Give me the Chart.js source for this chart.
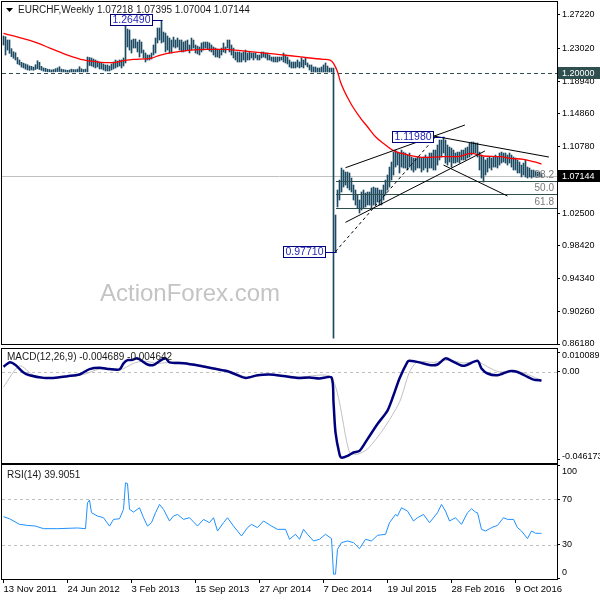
<!DOCTYPE html>
<html>
<head>
<meta charset="utf-8">
<script src="https://cdn.jsdelivr.net/npm/chart.js@4.4.1/dist/chart.umd.min.js"></script>
<style>
  html, body { margin: 0; padding: 0; background: #fff; }
  #wrap { position: relative; width: 600px; height: 600px; overflow: hidden; background: #fff; }
  canvas { position: absolute; left: 0; }
</style>
</head>
<body>
<div id="wrap">
  <canvas id="main" width="600" height="352" style="top:0px"></canvas>
  <canvas id="macd" width="600" height="124" style="top:340px"></canvas>
  <canvas id="rsi" width="600" height="146" style="top:454px"></canvas>
</div>
<script>
// EURCHF semanal, una barra por semana desde el 13 Nov 2011 (semana 0)
const tickIdx = [0, 32, 64, 96, 128, 160, 192, 224, 256];
const tickLabels = ['13 Nov 2011', '24 Jun 2012', '3 Feb 2013', '15 Sep 2013', '27 Apr 2014',
  '7 Dec 2014', '19 Jul 2015', '28 Feb 2016', '9 Oct 2016'];
const priceTicks = [1.2722, 1.2302, 1.1894, 1.1486, 1.1078, 1.0670, 1.0250, 0.9842, 0.9434, 0.9026, 0.8618];
const macdTicks = [0.010089, 0, -0.046173];
const rsiTicks = [100, 70, 30, 0];

const highs = [
  1.2458,1.2449,1.2408,1.2408,1.2300,1.2262,1.2250,1.2190,1.2159,1.2130,
  1.2120,1.2110,1.2100,1.2085,1.2080,1.2070,1.2100,1.2150,1.2130,1.2080,
  1.2060,1.2055,1.2045,1.2040,1.2035,1.2040,1.2050,1.2060,1.2075,1.2045,
  1.2040,1.2035,1.2030,1.2035,1.2045,1.2040,1.2038,1.2045,1.2075,1.2050,
  1.2040,1.2045,1.2196,1.2190,1.2184,1.2171,1.2159,1.2146,1.2134,1.2122,
  1.2109,1.2097,1.2097,1.2084,1.2109,1.2134,1.2159,1.2146,1.2159,1.2159,
  1.2184,1.2583,1.2545,1.2533,1.2408,1.2420,1.2420,1.2383,1.2408,1.2383,
  1.2283,1.2246,1.2221,1.2221,1.2246,1.2346,1.2433,1.2558,1.2558,1.2649,
  1.2508,1.2495,1.2458,1.2433,1.2408,1.2445,1.2408,1.2433,1.2408,1.2408,
  1.2383,1.2396,1.2408,1.2346,1.2433,1.2408,1.2346,1.2333,1.2321,1.2371,
  1.2383,1.2383,1.2383,1.2371,1.2346,1.2321,1.2308,1.2296,1.2283,1.2308,
  1.2371,1.2321,1.2408,1.2408,1.2346,1.2308,1.2259,1.2259,1.2259,1.2246,
  1.2259,1.2283,1.2246,1.2259,1.2246,1.2246,1.2246,1.2221,1.2221,1.2259,
  1.2259,1.2246,1.2246,1.2221,1.2196,1.2196,1.2196,1.2196,1.2196,1.2196,
  1.2246,1.2221,1.2196,1.2159,1.2134,1.2134,1.2134,1.2159,1.2134,1.2184,
  1.2159,1.2184,1.2122,1.2097,1.2097,1.2072,1.2072,1.2059,1.2059,1.2072,
  1.2097,1.2122,1.2084,1.2059,1.2059,1.2059,1.0226,1.0538,1.0662,1.0812,
  1.0787,1.0762,1.0762,1.0750,1.0687,1.0600,1.0538,1.0475,1.0413,1.0513,
  1.0538,1.0500,1.0513,1.0513,1.0563,1.0575,1.0563,1.0563,1.0538,1.0538,
  1.0600,1.0662,1.0725,1.0824,1.0887,1.1011,1.1036,1.1011,1.0999,1.1036,
  1.1011,1.0999,1.0974,1.0999,1.0949,1.0937,1.0937,1.0949,1.0949,1.0937,
  1.0949,1.0974,1.0949,1.0999,1.0999,1.1036,1.1036,1.1099,1.1161,1.1161,
  1.1198,1.1161,1.1099,1.1074,1.1061,1.1036,1.0999,1.1011,1.1011,1.1036,
  1.1036,1.1061,1.1074,1.1124,1.1136,1.1136,1.1124,1.1124,1.1011,1.0974,
  1.0949,1.0912,1.0937,1.0949,1.0937,1.0949,1.0974,1.0949,1.0999,1.1011,
  1.0999,1.0999,1.0974,1.0999,1.0974,1.0949,1.0937,1.0912,1.0887,1.0849,
  1.0874,1.0912,1.0824,1.0812,1.0787,1.0787,1.0775,1.0762,1.0762,1.0740
];
const lows = [
  1.2346,1.2221,1.2283,1.2242,1.2200,1.2180,1.2159,1.2110,1.2097,1.2070,
  1.2060,1.2045,1.2035,1.2030,1.2035,1.2030,1.2040,1.2050,1.2040,1.2030,
  1.2020,1.2015,1.2012,1.2012,1.2010,1.2010,1.2012,1.2015,1.2015,1.2010,
  1.2010,1.2010,1.2008,1.2008,1.2010,1.2010,1.2010,1.2012,1.2010,1.2012,
  1.2010,1.2012,1.2010,1.2090,1.2084,1.2072,1.2059,1.2072,1.2047,1.2047,
  1.2034,1.2022,1.2022,1.2022,1.2034,1.2047,1.2059,1.2072,1.2084,1.2059,
  1.2084,1.2122,1.2321,1.2283,1.2246,1.2308,1.2308,1.2259,1.2196,1.2246,
  1.2184,1.2134,1.2159,1.2159,1.2171,1.2221,1.2246,1.2371,1.2408,1.2371,
  1.2383,1.2259,1.2283,1.2246,1.2246,1.2321,1.2308,1.2321,1.2283,1.2259,
  1.2259,1.2271,1.2283,1.2246,1.2283,1.2308,1.2246,1.2234,1.2221,1.2259,
  1.2283,1.2308,1.2296,1.2271,1.2259,1.2221,1.2196,1.2196,1.2184,1.2221,
  1.2259,1.2246,1.2308,1.2259,1.2221,1.2184,1.2159,1.2134,1.2134,1.2134,
  1.2159,1.2134,1.2159,1.2159,1.2184,1.2159,1.2184,1.2159,1.2159,1.2184,
  1.2196,1.2184,1.2159,1.2159,1.2146,1.2134,1.2134,1.2134,1.2146,1.2159,
  1.2134,1.2122,1.2109,1.2072,1.2059,1.2059,1.2059,1.2072,1.2059,1.2072,
  1.2059,1.2097,1.2072,1.2034,1.2009,1.2009,1.2009,1.2009,1.2009,1.2009,
  1.2009,1.2009,1.2009,1.2009,1.2009,0.8690,0.9771,1.0326,1.0413,1.0513,
  1.0575,1.0600,1.0563,1.0538,1.0513,1.0413,1.0351,1.0313,1.0251,1.0288,
  1.0313,1.0326,1.0351,1.0351,1.0313,1.0351,1.0351,1.0388,1.0351,1.0351,
  1.0413,1.0475,1.0538,1.0575,1.0662,1.0725,1.0824,1.0849,1.0750,1.0824,
  1.0812,1.0812,1.0787,1.0824,1.0787,1.0762,1.0787,1.0812,1.0812,1.0762,
  1.0787,1.0812,1.0762,1.0812,1.0812,1.0787,1.0787,1.0849,1.0912,1.0949,
  1.0999,1.0874,1.0849,1.0887,1.0824,1.0874,1.0874,1.0887,1.0874,1.0912,
  1.0912,1.0912,1.0937,1.0949,1.0974,1.0999,1.0999,1.0949,1.0787,1.0687,
  1.0637,1.0725,1.0762,1.0812,1.0787,1.0824,1.0824,1.0812,1.0849,1.0874,
  1.0887,1.0874,1.0849,1.0874,1.0824,1.0787,1.0787,1.0750,1.0750,1.0700,
  1.0725,1.0700,1.0687,1.0700,1.0687,1.0700,1.0700,1.0712,1.0700,1.0700
];

// media movil (roja)
const maIdx = [0, 15, 23.5, 32, 40, 48.5, 55, 60, 65, 73.5, 78.5, 85, 93.5, 102, 110, 118.5, 127, 135,
  143.5, 152, 160, 163.5, 165, 167, 168.5, 173.5, 178.5, 182, 186, 191, 194.5, 202.5, 211, 219.5,
  227, 233.5, 240, 248.5, 253.5, 260, 265, 269];
const maVal = [1.2492, 1.2387, 1.2305, 1.2221, 1.2159, 1.2130, 1.2125, 1.2150, 1.2167, 1.2180, 1.2221,
  1.2255, 1.2283, 1.2292, 1.2292, 1.2275, 1.2255, 1.2234, 1.2212, 1.2187, 1.2167, 1.2155, 1.2118,
  1.2013, 1.1884, 1.1623, 1.1435, 1.1327, 1.1202, 1.1099, 1.1036, 1.0974, 1.0945, 1.0953, 1.0953,
  1.0995, 1.0962, 1.0953, 1.0933, 1.0920, 1.0891, 1.0862];

const macdIdx = [0, 3, 6, 10, 13, 20, 25, 32, 38, 43, 48, 53, 58, 60, 62, 64, 67, 72, 75, 78,
  81, 83, 90, 98, 105, 112, 115, 121, 127, 133, 140, 147, 153, 158, 164, 165, 166, 168, 169, 172,
  175, 178, 182, 187, 192, 195, 198, 202, 203, 208, 213, 217, 221, 225, 230, 237, 239, 242, 247, 253,
  257, 262, 265, 269];
const macdVal = [0.0025, 0.0048, 0.0034, -0.0005, -0.0019, -0.0033, -0.0033, -0.0024, -0.0015, 0.0013,
  0.0020, 0.0013, 0.0011, 0.0043, 0.0060, 0.0060, 0.0069, 0.0037, 0.0034, 0.0055,
  0.0069, 0.0048, 0.0043, 0.0030, 0.0016, 0.0002, -0.0010, -0.0033, -0.0019, -0.0015,
  -0.0023, -0.0033, -0.0031, -0.0036, -0.0031, -0.0160, -0.0318, -0.0432, -0.0450, -0.0441,
  -0.0423, -0.0415, -0.0353, -0.0274, -0.0204, -0.0124, -0.0036, 0.0051, 0.0056, 0.0048,
  0.0034, 0.0037, 0.0069, 0.0051, 0.0030, 0.0056, 0.0016, -0.0010, -0.0019, 0.0002,
  -0.0002, -0.0028, -0.0042, -0.0047];
const signalIdx = [0, 8, 15, 23, 40, 48, 58, 65, 70, 77, 87, 98, 115, 122, 132, 148, 164, 173, 177, 182,
  190, 198, 203, 207, 215, 223, 230, 237, 242, 248, 255, 263, 269];
const signalVal = [-0.0081, 0.0030, -0.0019, -0.0033, -0.0015, 0.0013, 0.0007, 0.0043, 0.0055, 0.0043,
  0.0051, 0.0035, -0.0005, -0.0030, -0.0015, -0.0028, -0.0031, -0.0423, -0.0432, -0.0405,
  -0.0300, -0.0160, -0.0002, 0.0051, 0.0048, 0.0060, 0.0045, 0.0052, 0.0025, -0.0002,
  0.0007, -0.0019, -0.0046];

const rsiIdx = [0, 3, 8, 12, 16, 20, 27, 37, 41, 42, 43, 44, 47, 50, 53, 55, 58, 60, 61, 62,
  63, 65, 68, 70, 72, 74, 76, 78, 80, 83, 85, 87, 90, 93, 97, 100, 103, 105, 107, 110,
  112, 115, 119, 122, 124, 127, 130, 134, 137, 141, 143, 146, 148, 150, 152, 155, 158, 161, 164, 165,
  166, 167, 169, 172, 175, 178, 181, 184, 187, 191, 193, 196, 197, 199, 202, 205, 207, 210, 213, 217,
  219, 221, 223, 226, 229, 232, 234, 236, 237, 239, 241, 244, 247, 250, 252, 255, 257, 259, 262, 264,
  266, 268, 269];
const rsiVal = [54.7, 52.9, 47.9, 47.0, 46.4, 44.1, 44.1, 44.7, 44.1, 67.0,
  69.4, 58.2, 55.3, 53.8, 46.4, 52.3, 52.9, 61.2, 84.7, 84.1,
  61.2, 58.8, 62.6, 53.8, 46.4, 49.4, 58.2, 65.6, 61.2, 50.9,
  55.3, 56.7, 52.3, 53.8, 46.4, 52.3, 49.4, 53.8, 42.0, 49.4,
  53.8, 46.4, 37.6, 45.0, 47.9, 45.0, 50.9, 46.4, 43.5, 43.5,
  34.7, 39.1, 34.7, 43.5, 39.1, 33.2, 34.7, 39.1, 35.3, 3.8,
  3.8, 25.8, 31.7, 33.2, 31.7, 26.4, 34.7, 33.2, 38.2, 39.1,
  49.4, 56.7, 55.3, 62.6, 59.7, 50.9, 53.8, 56.7, 49.4, 58.2,
  65.6, 59.7, 50.9, 53.8, 47.9, 58.2, 61.7, 58.8, 58.2, 43.5,
  42.0, 45.0, 47.0, 53.8, 52.3, 52.3, 45.0, 42.0, 35.3, 42.0,
  40.0, 40.0, 39.9];

// objetos dibujados sobre el grafico (semana, precio)
const floorLevel = 1.2;
const lastClose = 1.07144;
const fibLow = 0.9771, fibHigh = 1.1198, fibStart = 166;
const fibRatios = [0.382, 0.5, 0.618];
const fibNames = ['38.2', '50.0', '61.8'];
const trendLines = [
  [171, 1.0816, 230.7, 1.1348],
  [171, 1.0135, 240.7, 1.1024],
  [215, 1.1211, 272.7, 1.0949],
  [220, 1.0849, 252, 1.0463]
];
const priceMarks = [
  { text: '1.26490', i: 64, p: 1.2658, toI: 79, toP: 1.2649 },
  { text: '1.11980', i: 204.8, p: 1.1205, toI: 220, toP: 1.1198 },
  { text: '0.97710', i: 150.5, p: 0.9771, toI: 166, toP: 0.9771 }
];

const FONT = '"Liberation Sans", Arial, sans-serif';
Chart.defaults.font.family = FONT;
Chart.defaults.font.size = 9;
Chart.defaults.color = '#000';
Chart.defaults.animation = false;

const xMin = -0.75, xMax = 276.75;

function pts(xs, ys) {
  return xs.map((v, k) => ({ x: v, y: ys[k] }));
}

function hiddenX() {
  return { type: 'linear', display: false, min: xMin, max: xMax, offset: false, grid: { offset: false } };
}

function rightAxis(min, max, values, fmt, showLabels) {
  return {
    type: 'linear', position: 'right', min: min, max: max, beginAtZero: false,
    grid: { drawOnChartArea: false, drawTicks: true, tickLength: 3, color: '#000' },
    border: { display: true, color: '#000' },
    ticks: { display: showLabels, padding: 2, autoSkip: false, callback: fmt, font: { size: 9 } },
    afterBuildTicks: s => { s.ticks = values.map(v => ({ value: v })); },
    afterFit: s => { s.width = 43; s.paddingTop = 0; s.paddingBottom = 0; }
  };
}

// etiquetas del eje de los indicadores: como en MT4 quedan dentro del panel
function clampedLabels(chart, values, fmt) {
  const { ctx, chartArea: a, scales: { y } } = chart;
  ctx.save();
  ctx.font = '9px ' + FONT;
  ctx.fillStyle = '#000';
  ctx.textAlign = 'left';
  ctx.textBaseline = 'middle';
  values.forEach(v => {
    const py = Math.min(Math.max(y.getPixelForValue(v), a.top + 7), a.bottom - 6);
    ctx.fillText(fmt(v), a.right + 5, py);
  });
  ctx.restore();
}

function hline(ctx, a, y, color, dash) {
  const yy = Math.round(y) + 0.5;
  ctx.save();
  ctx.strokeStyle = color;
  ctx.lineWidth = 1;
  ctx.setLineDash(dash);
  ctx.beginPath();
  ctx.moveTo(a.left, yy);
  ctx.lineTo(a.right, yy);
  ctx.stroke();
  ctx.restore();
}

function drawFrame(chart) {
  const { ctx, chartArea: a } = chart;
  ctx.save();
  ctx.strokeStyle = '#000';
  ctx.lineWidth = 1;
  ctx.strokeRect(a.left - 0.5, a.top - 0.5, a.right - a.left + 1, a.bottom - a.top + 1);
  ctx.restore();
}

function panelTitle(chart, text, y) {
  const ctx = chart.ctx;
  ctx.save();
  ctx.font = '10px ' + FONT;
  ctx.fillStyle = '#1a1a1a';
  ctx.textBaseline = 'middle';
  ctx.textAlign = 'left';
  ctx.fillText(text, chart.chartArea.left + 5, chart.chartArea.top + y);
  ctx.restore();
}

function axisBox(chart, value, text, bg) {
  const { ctx, chartArea: a, scales } = chart;
  const y = Math.round(scales.y.getPixelForValue(value));
  ctx.save();
  ctx.fillStyle = bg;
  ctx.fillRect(a.right + 1, y - 6, 43, 12);
  ctx.fillStyle = '#fff';
  ctx.font = '9px ' + FONT;
  ctx.textBaseline = 'middle';
  ctx.textAlign = 'left';
  ctx.fillText(text, a.right + 5, y + 0.5);
  ctx.restore();
}

const mainDecor = {
  id: 'mainDecor',
  beforeDatasetsDraw(chart) {
    const { ctx, chartArea: a, scales: { y } } = chart;
    ctx.save();
    ctx.font = '24px ' + FONT;
    ctx.fillStyle = '#c4c4c4';
    ctx.textBaseline = 'alphabetic';
    ctx.fillText('ActionForex.com', a.left + 98, a.top + 299);
    ctx.restore();
    hline(ctx, a, y.getPixelForValue(floorLevel), '#2f4f4f', [4, 3]);
    hline(ctx, a, y.getPixelForValue(lastClose), '#c0c0c0', []);
  },
  afterDatasetsDraw(chart) {
    const { ctx, chartArea: a, scales: { x, y } } = chart;
    ctx.save();
    ctx.beginPath();
    ctx.rect(a.left, a.top, a.right - a.left, a.bottom - a.top);
    ctx.clip();

    // retroceso de Fibonacci
    const fx = Math.round(x.getPixelForValue(fibStart));
    fibRatios.forEach((r, k) => {
      const py = Math.round(y.getPixelForValue(fibHigh - r * (fibHigh - fibLow))) + 0.5;
      ctx.strokeStyle = '#2f4f4f';
      ctx.lineWidth = 1;
      ctx.beginPath();
      ctx.moveTo(fx, py);
      ctx.lineTo(a.right, py);
      ctx.stroke();
      ctx.font = '10px ' + FONT;
      ctx.fillStyle = '#7a7a7a';
      ctx.textAlign = 'right';
      ctx.textBaseline = 'bottom';
      ctx.fillText(fibNames[k], a.right - 3, py - 1);
    });
    ctx.strokeStyle = '#000';
    ctx.setLineDash([3, 3]);
    ctx.beginPath();
    ctx.moveTo(x.getPixelForValue(fibStart), y.getPixelForValue(fibLow));
    ctx.lineTo(x.getPixelForValue(216), y.getPixelForValue(fibHigh));
    ctx.stroke();
    ctx.setLineDash([]);

    // lineas de tendencia
    ctx.strokeStyle = '#000';
    ctx.lineWidth = 1;
    trendLines.forEach(t => {
      ctx.beginPath();
      ctx.moveTo(x.getPixelForValue(t[0]), y.getPixelForValue(t[1]));
      ctx.lineTo(x.getPixelForValue(t[2]), y.getPixelForValue(t[3]));
      ctx.stroke();
    });

    // etiquetas de precio
    priceMarks.forEach(m => {
      const cx = x.getPixelForValue(m.i), cy = Math.round(y.getPixelForValue(m.p));
      const tx = Math.round(x.getPixelForValue(m.toI)) + 0.5;
      const ty = y.getPixelForValue(m.toP);
      ctx.font = '10.5px ' + FONT;
      const w = Math.round(ctx.measureText(m.text).width) + 5, h = 12;
      const left = Math.round(cx - w / 2), top = cy - 6;
      ctx.strokeStyle = '#000080';
      ctx.beginPath();
      ctx.moveTo(left + w, cy + 0.5);
      ctx.lineTo(tx, cy + 0.5);
      ctx.lineTo(tx, ty);
      ctx.stroke();
      ctx.fillStyle = '#fff';
      ctx.fillRect(left, top, w, h);
      ctx.strokeRect(left + 0.5, top + 0.5, w - 1, h - 1);
      ctx.fillStyle = '#2626b8';
      ctx.textAlign = 'center';
      ctx.textBaseline = 'middle';
      ctx.fillText(m.text, left + w / 2, top + h / 2 + 0.5);
    });
    ctx.restore();
  },
  afterDraw(chart) {
    drawFrame(chart);
    const ctx = chart.ctx;
    ctx.save();
    ctx.fillStyle = '#000';
    ctx.beginPath();
    ctx.moveTo(6, 8); ctx.lineTo(13, 8); ctx.lineTo(9.5, 12); ctx.closePath();
    ctx.fill();
    ctx.font = '10px ' + FONT;
    ctx.textBaseline = 'middle';
    ctx.fillStyle = '#1a1a1a';
    ctx.fillText('EURCHF,Weekly', 18, 10.5);
    ctx.fillText('1.07218 1.07395 1.07004 1.07144', 97, 10.5);
    ctx.restore();
    axisBox(chart, floorLevel, '1.20000', '#2f4f4f');
    axisBox(chart, lastClose, '1.07144', '#000');
  }
};

new Chart(document.getElementById('main'), {
  type: 'bar',
  data: {
    datasets: [
      {
        type: 'line', data: pts(maIdx, maVal), borderColor: '#ff0000', borderWidth: 1.3,
        pointRadius: 0, cubicInterpolationMode: 'monotone', order: 0
      },
      {
        type: 'bar', data: highs.map((h, i) => ({ x: i, y: [lows[i], h] })),
        backgroundColor: '#1d4b63', barThickness: 1, grouped: false, order: 1
      }
    ]
  },
  options: {
    responsive: false,
    layout: { padding: { left: 2, top: 2, right: 0, bottom: 8 } },
    plugins: { legend: { display: false }, tooltip: { enabled: false } },
    scales: {
      x: hiddenX(),
      y: rightAxis(0.8618, 1.2882, priceTicks, v => v.toFixed(5), true)
    }
  },
  plugins: [mainDecor]
});

const macdFmt = v => (v === 0 ? '0.00' : String(v));
const macdDecor = {
  id: 'macdDecor',
  beforeDatasetsDraw(chart) {
    hline(chart.ctx, chart.chartArea, chart.scales.y.getPixelForValue(0), '#c0c0c0', [3, 3]);
  },
  afterDraw(chart) {
    drawFrame(chart);
    panelTitle(chart, 'MACD(12,26,9) -0.004689 -0.004642', 8);
    clampedLabels(chart, macdTicks, macdFmt);
  }
};

new Chart(document.getElementById('macd'), {
  type: 'line',
  data: {
    datasets: [
      { data: pts(macdIdx, macdVal), borderColor: '#00007f', borderWidth: 2.5, pointRadius: 0, tension: 0.25 },
      { data: pts(signalIdx, signalVal), borderColor: '#c0c0c0', borderWidth: 1, pointRadius: 0, tension: 0.25 }
    ]
  },
  options: {
    responsive: false,
    layout: { padding: { left: 2, top: 9, right: 0, bottom: 1 } },
    plugins: { legend: { display: false }, tooltip: { enabled: false } },
    scales: {
      x: hiddenX(),
      y: rightAxis(-0.0478, 0.0118, macdTicks, macdFmt, false)
    }
  },
  plugins: [macdDecor]
});

const rsiFmt = v => String(v);
const rsiDecor = {
  id: 'rsiDecor',
  beforeDatasetsDraw(chart) {
    const y = chart.scales.y;
    hline(chart.ctx, chart.chartArea, y.getPixelForValue(70), '#c0c0c0', [3, 3]);
    hline(chart.ctx, chart.chartArea, y.getPixelForValue(30), '#c0c0c0', [3, 3]);
  },
  afterDraw(chart) {
    drawFrame(chart);
    panelTitle(chart, 'RSI(14) 39.9051', 10);
    clampedLabels(chart, rsiTicks, rsiFmt);
  }
};

new Chart(document.getElementById('rsi'), {
  type: 'line',
  data: {
    datasets: [
      { data: pts(rsiIdx, rsiVal), borderColor: '#1e90ff', borderWidth: 1, pointRadius: 0, tension: 0 }
    ]
  },
  options: {
    responsive: false,
    layout: { padding: { left: 2, top: 11, right: 0, bottom: 0 } },
    plugins: { legend: { display: false }, tooltip: { enabled: false } },
    scales: {
      x: {
        type: 'linear', min: xMin, max: xMax, offset: false,
        grid: { drawOnChartArea: false, drawTicks: true, tickLength: 4, color: '#000' },
        border: { display: true, color: '#000' },
        ticks: {
          align: 'start', padding: 1, maxRotation: 0, autoSkip: false, font: { size: 9.5 },
          callback: v => tickLabels[tickIdx.indexOf(v)]
        },
        afterBuildTicks: s => { s.ticks = tickIdx.map(v => ({ value: v })); },
        afterFit: s => { s.height = 21; s.paddingLeft = 0; s.paddingRight = 0; }
      },
      y: rightAxis(-0.5, 100.5, rsiTicks, rsiFmt, false)
    }
  },
  plugins: [rsiDecor]
});
</script>
</body>
</html>
